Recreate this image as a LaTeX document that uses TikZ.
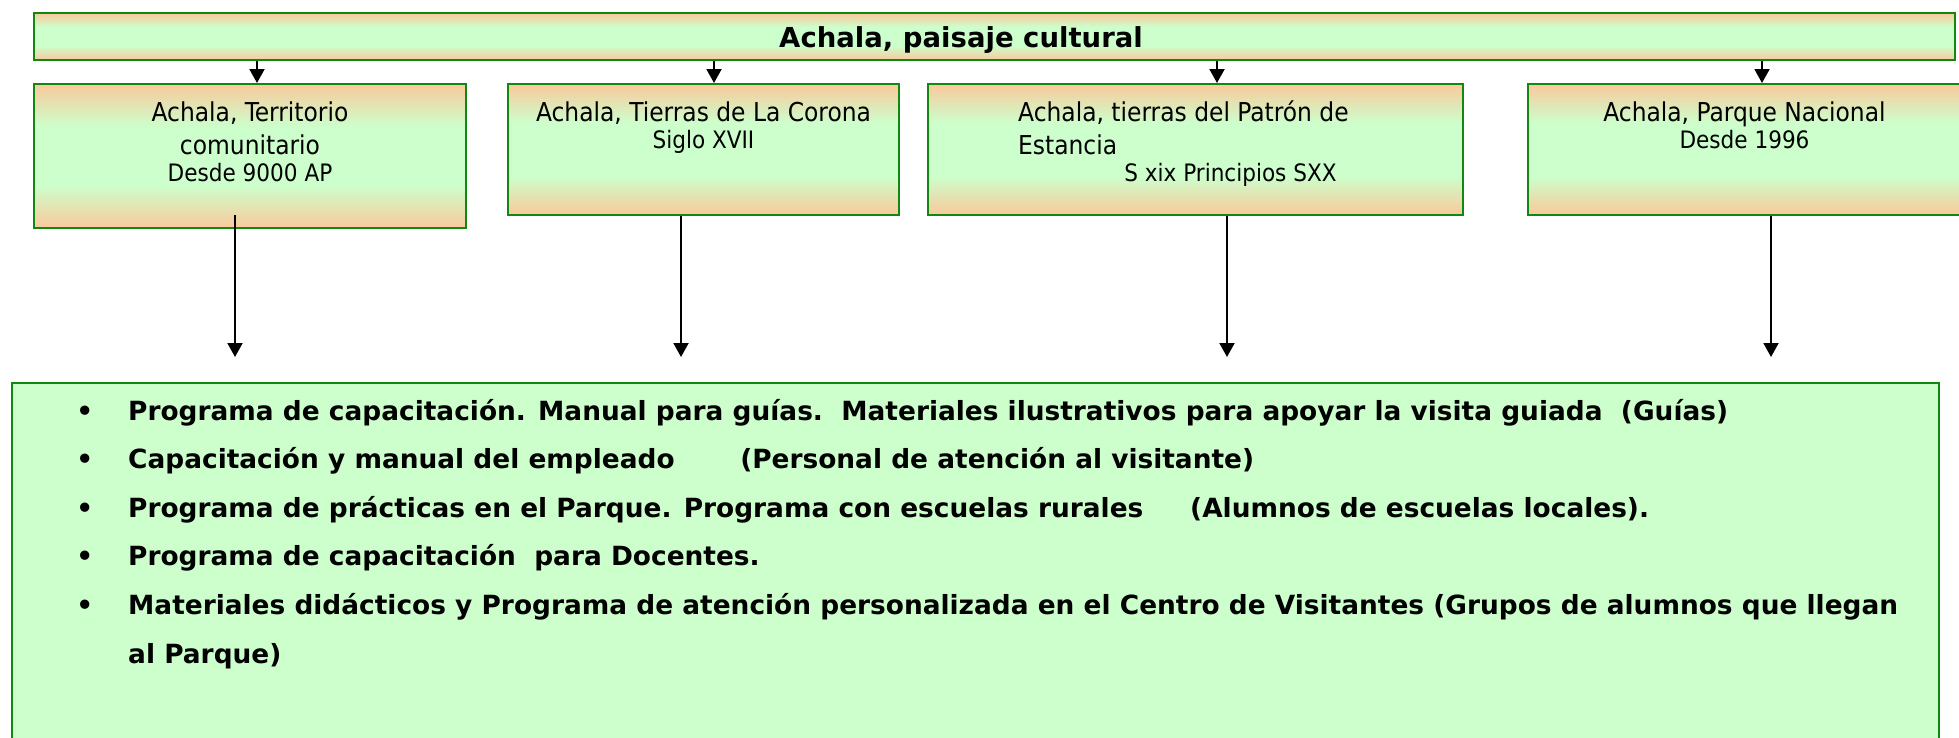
\documentclass[tikz,border=0pt]{standalone}
\usepackage{fontspec}
\setmainfont{DejaVu Sans Condensed}[BoldFont={DejaVu Sans Bold}]
\usetikzlibrary{arrows.meta,positioning}

\definecolor{durazno}{HTML}{FAC99B}
\definecolor{menta}{HTML}{CCFFCC}
\definecolor{borde}{HTML}{118811}

\pgfdeclareverticalshading{franja}{100bp}{color(0bp)=(durazno); color(25bp)=(durazno); color(40bp)=(menta); color(60bp)=(menta); color(75bp)=(durazno); color(100bp)=(durazno)}

\begin{document}
\begin{tikzpicture}[
    x=1pt, y=1pt,
    etapa/.style={rectangle,draw=borde,line width=2pt,shade,shading=franja,inner sep=0pt,anchor=north west},
    lista/.style={rectangle,draw=borde,line width=2pt,fill=menta,inner sep=0pt,anchor=north west},
    texto/.style={inner sep=0pt,anchor=base,font=\fontsize{26}{33}\selectfont},
    fecha/.style={inner sep=0pt,anchor=base,font=\fontsize{24}{29}\selectfont},
    punto/.style={inner sep=0pt,anchor=base west,font=\bfseries\fontsize{26.4}{32}\selectfont},
    flecha/.style={-{Triangle[length=14pt,width=15pt]},line width=2pt}
]
\useasboundingbox (0,0) rectangle (1959,-737);

% Paisaje cultural
\node[etapa,minimum width=1921pt,minimum height=47pt] (paisaje) at (33,-12) {};
\node[inner sep=0pt,anchor=base,font=\bfseries\fontsize{27.5}{32}\selectfont] (titulo) at (961,-47) {Achala, paisaje cultural};

% Etapas
\node[etapa,minimum width=432pt,minimum height=144pt] (comunitario) at (33,-83) {};
\node[etapa,minimum width=391pt,minimum height=131pt,right=40pt of comunitario.north east,anchor=north west] (corona) {};
\node[etapa,minimum width=535pt,minimum height=131pt,right=27pt of corona.north east,anchor=north west] (patron) {};
\node[etapa,minimum width=433pt,minimum height=131pt,right=63pt of patron.north east,anchor=north west] (parque) {};

% Textos de las etapas
\node[texto] (comunitario1) at ([yshift=-38pt]comunitario.north) {Achala, Territorio};
\node[texto] (comunitario2) at ([yshift=-33pt]comunitario1.base) {comunitario};
\node[fecha] (comunitario3) at ([yshift=-27pt]comunitario2.base) {Desde 9000 AP};

\node[texto] (corona1) at ([yshift=-38pt]corona.north) {Achala, Tierras de La Corona};
\node[fecha] (corona2) at ([yshift=-27pt]corona1.base) {Siglo XVII};

\node[texto,anchor=base west] (patron1) at ([xshift=91pt,yshift=-38pt]patron.north west) {Achala, tierras del Patrón de};
\node[texto,anchor=base west] (patron2) at ([yshift=-33pt]patron1.base west) {Estancia};
\node[fecha] (patron3) at ([xshift=35pt,yshift=-98pt]patron.north) {S xix Principios SXX};

\node[texto] (parque1) at ([yshift=-38pt]parque.north) {Achala, Parque Nacional};
\node[fecha] (parque2) at ([yshift=-27pt]parque1.base) {Desde 1996};

% Programas
\node[lista,minimum width=1927pt,minimum height=365pt] (programas) at (11,-382) {};
\node[punto] (programa1) at ([xshift=117pt,yshift=-38pt]programas.north west) {\llap{•\hspace{35pt}}Programa de capacitación. Manual para guías.\ \ Materiales ilustrativos para apoyar la visita guiada\ \ (Guías)};
\node[punto] (programa2) at ([yshift=-48.6pt]programa1.base west) {\llap{•\hspace{35pt}}\makebox[612pt][l]{Capacitación y manual del empleado}(Personal de atención al visitante)};
\node[punto] (programa3) at ([yshift=-48.6pt]programa2.base west) {\llap{•\hspace{35pt}}\makebox[1062pt][l]{Programa de prácticas en el Parque. Programa con escuelas rurales}(Alumnos de escuelas locales).};
\node[punto] (programa4) at ([yshift=-48.6pt]programa3.base west) {\llap{•\hspace{35pt}}Programa de capacitación\ \ para Docentes.};
\node[punto] (programa5) at ([yshift=-48.6pt]programa4.base west) {\llap{•\hspace{35pt}}Materiales didácticos y Programa de atención personalizada en el Centro de Visitantes (Grupos de alumnos que llegan};
\node[punto] (programa6) at ([yshift=-48.6pt]programa5.base west) {al Parque)};

% Flechas
\draw[flecha] (paisaje.south -| 257,0) -- (comunitario.north -| 257,0);
\draw[flecha] (paisaje.south -| 714,0) -- (corona.north -| 714,0);
\draw[flecha] (paisaje.south -| 1217,0) -- (patron.north -| 1217,0);
\draw[flecha] (paisaje.south -| 1762,0) -- (parque.north -| 1762,0);

\draw[flecha] ([yshift=14pt]comunitario.south -| 235,0) -- ([yshift=25pt]programas.north -| 235,0);
\draw[flecha] (corona.south -| 681,0) -- ([yshift=25pt]programas.north -| 681,0);
\draw[flecha] (patron.south -| 1227,0) -- ([yshift=25pt]programas.north -| 1227,0);
\draw[flecha] (parque.south -| 1771,0) -- ([yshift=25pt]programas.north -| 1771,0);

\end{tikzpicture}
\end{document}
